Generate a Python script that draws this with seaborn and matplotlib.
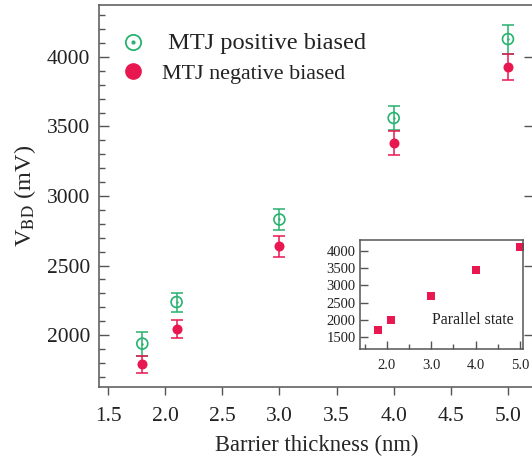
import matplotlib
matplotlib.use("Agg")
import matplotlib.pyplot as plt
import seaborn as sns
import pandas as pd
from matplotlib.lines import Line2D
from matplotlib.legend_handler import HandlerTuple
from matplotlib.ticker import MultipleLocator, FormatStrFormatter

# ---- data ----
thickness = [1.8, 2.1, 3.0, 4.0, 5.0]
pos_vbd = [1938, 2237, 2831, 3561, 4129]
pos_err = [86, 68, 72, 86, 104]
neg_vbd = [1788, 2043, 2637, 3381, 3928]
neg_err = [58, 68, 75, 83, 97]
parallel_vbd = [1703, 1994, 2690, 3448, 4116]

xlabel = "Barrier thickness (nm)"
ylabel = r"V$_{\mathrm{BD}}$ (mV)"
label_pos = " MTJ positive biased"
label_neg = "MTJ negative biased"
inset_text = "Parallel state"

GREEN = "#27b26f"
RED = "#e8174f"
SPINE = "#555555"

sns.set_style("ticks")
plt.rcParams["font.family"] = ["Liberation Serif", "DejaVu Serif"]
plt.rcParams["mathtext.fontset"] = "stix"
plt.rcParams["text.color"] = "#222222"
plt.rcParams["xtick.color"] = SPINE
plt.rcParams["ytick.color"] = SPINE
plt.rcParams["xtick.labelcolor"] = "#222222"
plt.rcParams["ytick.labelcolor"] = "#222222"

df = pd.DataFrame({"t": thickness, "pos": pos_vbd, "neg": neg_vbd,
                   "pe": pos_err, "ne": neg_err, "par": parallel_vbd})

fig = plt.figure(figsize=(5.32, 4.71), dpi=100)
ax = fig.add_axes([99 / 532, 1 - 387 / 471, (534 - 99) / 532, (387 - 5) / 471])

# error bars
ax.errorbar(df["t"], df["pos"], yerr=df["pe"], fmt="none", ecolor=GREEN,
            elinewidth=1.1, capsize=4.4, capthick=1.1, zorder=2)
ax.errorbar(df["t"], df["neg"], yerr=df["ne"], fmt="none", ecolor=RED,
            elinewidth=1.1, capsize=4.4, capthick=1.1, zorder=2)
# markers
sns.scatterplot(data=df, x="t", y="pos", ax=ax, marker="o", s=62,
                facecolors="none", edgecolor=GREEN, linewidth=1.2, zorder=3)
sns.scatterplot(data=df, x="t", y="pos", ax=ax, marker="o", s=3,
                color=GREEN, linewidth=0, zorder=3)
sns.scatterplot(data=df, x="t", y="neg", ax=ax, marker="o", s=52,
                color=RED, linewidth=0, zorder=3)

ax.set_xlim(1.421, 5.228)
ax.set_ylim(1626, 4374)
ax.xaxis.set_major_locator(MultipleLocator(0.5))
ax.xaxis.set_major_formatter(FormatStrFormatter("%.1f"))
ax.yaxis.set_major_locator(MultipleLocator(500))
ax.yaxis.set_minor_locator(MultipleLocator(100))
ax.tick_params(axis="x", which="major", direction="out", length=6, width=1.0,
               bottom=True, top=False, labelsize=15.5, pad=8.5)
ax.tick_params(axis="y", which="major", direction="in", length=7, width=1.0,
               left=True, right=True, labelsize=15.5, pad=6.5)
ax.tick_params(axis="y", which="minor", direction="in", length=4, width=1.0,
               left=True, right=False)
for s in ax.spines.values():
    s.set_color(SPINE)
    s.set_linewidth(1.1)
    s.set_visible(True)

ax.set_xlabel(xlabel, fontsize=16.3, labelpad=6)
ax.set_ylabel(ylabel, fontsize=17.5)
ax.yaxis.set_label_coords(-0.14, 0.5)

# legend
h_pos = (Line2D([], [], marker="o", ms=11, mfc="none", mec=GREEN, mew=1.3, ls="none"),
         Line2D([], [], marker="o", ms=2, mfc=GREEN, mec=GREEN, ls="none"))
h_neg = Line2D([], [], marker="o", ms=11, mfc=RED, mec=RED, ls="none")
leg = ax.legend([h_pos, h_neg], [label_pos, label_neg],
                handler_map={tuple: HandlerTuple(ndivide=1)},
                loc="upper left", bbox_to_anchor=(0.031, 0.948), frameon=False,
                handlelength=1.2, handletextpad=0.8, labelspacing=0.48,
                borderaxespad=0.0, fontsize=15)
leg.get_texts()[0].set_fontsize(17.6)
leg.get_texts()[1].set_fontsize(15.8)

# inset
ax2 = fig.add_axes([360 / 532, 1 - 349 / 471, 163 / 532, 109 / 471])
sns.scatterplot(data=df, x="t", y="par", ax=ax2, marker="s", s=26,
                color=RED, linewidth=0)
ax2.set_xlim(1.391, 5.068)
ax2.set_ylim(1151, 4320)
ax2.set_xlabel("")
ax2.set_ylabel("")
ax2.xaxis.set_major_locator(MultipleLocator(1.0))
ax2.xaxis.set_minor_locator(MultipleLocator(0.5))
ax2.xaxis.set_major_formatter(FormatStrFormatter("%.1f"))
ax2.yaxis.set_major_locator(MultipleLocator(500))
ax2.tick_params(axis="x", which="major", direction="in", length=6, width=1.0,
                labelsize=10.5, pad=7.5)
ax2.tick_params(axis="x", which="minor", direction="in", length=3.5, width=1.0)
ax2.tick_params(axis="y", which="major", direction="in", length=6, width=1.0,
                labelsize=10.5, pad=3)
for s in ax2.spines.values():
    s.set_color(SPINE)
    s.set_linewidth(1.1)
    s.set_visible(True)
ax2.text(0.44, 0.27, inset_text, transform=ax2.transAxes, fontsize=11.5,
         ha="left", va="center")

fig.savefig("out.png", dpi=100)
